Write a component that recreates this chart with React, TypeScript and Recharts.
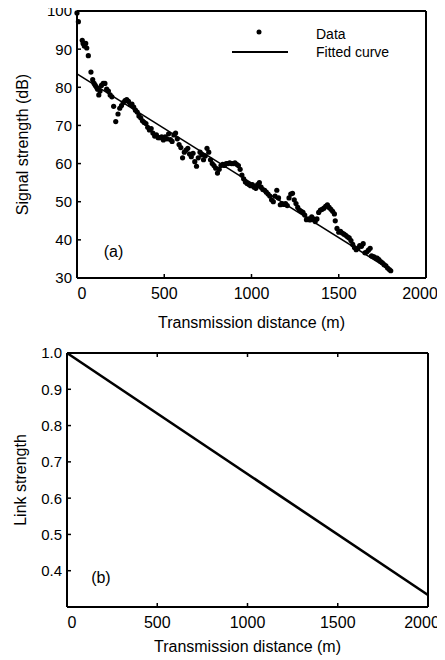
import {
  Line,
  LineChart,
  ReferenceDot,
  Scatter,
  ScatterChart,
  XAxis,
  YAxis,
} from "recharts";

// panel (a): measured signal strength vs distance
const distA = [
  0, 8, 30, 35, 42, 50, 56, 65, 80, 90, 98, 105, 112, 118, 125, 132, 140, 150,
  160, 170, 180, 190, 200, 210, 222, 235, 245, 255, 265, 275, 285, 295, 305,
  315, 325, 335, 345, 355, 365, 375, 385, 395, 405, 415, 425, 435, 445, 455,
  465, 475, 485, 495, 505, 515, 525, 535, 545, 555, 565, 575, 585, 595, 605,
  615, 625, 635, 645, 655, 665, 675, 685, 695, 705, 715, 725, 735, 745, 755,
  765, 775, 785, 795, 805, 815, 825, 835, 845, 855, 865, 875, 885, 895, 905,
  915, 925, 935, 945, 955, 965, 975, 985, 995, 1005, 1015, 1025, 1035, 1045,
  1055, 1065, 1075, 1085, 1095, 1105, 1115, 1125, 1135, 1145, 1155, 1165, 1175,
  1185, 1195, 1205, 1215, 1225, 1235, 1245, 1255, 1265, 1275, 1285, 1295, 1305,
  1315, 1325, 1335, 1345, 1355, 1365, 1375, 1385, 1395, 1405, 1415, 1425, 1435,
  1445, 1455, 1465, 1475, 1480, 1490, 1500, 1510, 1520, 1530, 1540, 1550, 1560,
  1570, 1580, 1590, 1600, 1610, 1620, 1630, 1640, 1650, 1660, 1670, 1680, 1688,
  1700, 1710, 1720, 1730, 1740, 1750, 1760, 1770, 1780, 1790, 1798,
];
const signalA = [
  99.5, 97.2, 92.3, 91.5, 90.8, 91.5, 90.3, 88.3, 84, 82, 81, 80.5, 80, 79.5,
  78, 79, 80.5, 81, 81, 79.5, 79, 78, 77.5, 75, 71, 73, 74.5, 75.2, 76, 76.5,
  76.8, 76.3, 75.5, 75.6, 74.8, 74, 73.5, 72.5, 72, 71.2, 70.8, 70.5, 69.5,
  68.8, 69.2, 68, 67.2, 67.5, 66.8, 66.8, 67, 66.2, 67, 66.5, 67.8, 66.3, 65.8,
  67.5, 68, 66.5, 65, 64.2, 61.5, 63, 63.5, 64, 62.5, 61.8, 62.7, 60.5, 59.3,
  61.5, 63, 62.3, 61, 62, 64, 63, 61, 60, 59.5, 58.8, 57.5, 58.5, 59.5, 59.8,
  59.5, 60, 60, 60.2, 60, 60, 60.2, 59.8, 59.5, 58.5, 57, 56, 55.2, 54.8, 54.5,
  54.2, 54.5, 53.8, 53.5, 54.5, 55, 53.8, 53.2, 53, 52.5, 52, 51.5, 50.5, 50,
  51.5, 53, 51, 49.2, 49.5, 49.3, 49.5, 49, 51, 52, 52.2, 50.5, 49.5, 48.5,
  47.8, 47.5, 47.2, 46.5, 45.3, 45.5, 45.2, 46, 45.5, 44.8, 45.5, 47.2, 47.8,
  48, 48.3, 48.8, 49.2, 48.5, 48, 47.5, 46.8, 45, 43, 42, 42.2, 41.8, 41.5,
  41.2, 40.8, 40.5, 39.8, 38.8, 38, 37.4, 37.8, 38.5, 38.3, 39, 36.6, 36.8,
  37.3, 37.8, 35.8, 35.6, 35.3, 35.2, 34.8, 34.3, 34, 33.5, 33.2, 32.6, 32.2,
  31.9,
];
const fitX = [0, 1800];
const fitY = [83.5, 32];

// panel (b): link strength vs distance
const linkX = [0, 2000];
const linkY = [1.0, 0.333];

const distTicks = [0, 500, 1000, 1500, 2000];
const signalTicks = [30, 40, 50, 60, 70, 80, 90, 100];
const linkTicks = [0.4, 0.5, 0.6, 0.7, 0.8, 0.9, 1.0];

const pointsA = distA.map((x, i) => ({ x, y: signalA[i] }));
const fitA = fitX.map((x, i) => ({ x, y: fitY[i] }));
const linkData = linkX.map((x, i) => ({ x, y: linkY[i] }));

const FONT = "'Liberation Sans', Arial, sans-serif";
const axisLine = { stroke: "#000", strokeWidth: 2 };
const TICK = 4;

const css = `
.recharts-cartesian-axis-line { stroke: #000; stroke-width: 2px; }
.recharts-label { fill: #000; font-size: 16px; font-family: ${FONT}; }
`;

const BottomTick = (props: any) => {
  const { x, y, payload } = props;
  let dx = 0;
  if (payload.value === 0) dx = 5;
  if (payload.value === 2000) dx = -6;
  return (
    <g>
      <line x1={x} x2={x} y1={y} y2={y - TICK} stroke="#000" strokeWidth={1.5} />
      <text x={x + dx} y={y + 21} textAnchor="middle" fontSize={16} fontFamily={FONT} fill="#000">
        {payload.value}
      </text>
    </g>
  );
};

const LeftTick = (props: any) => {
  const { x, y, payload, digits } = props;
  return (
    <g>
      <line x1={x} x2={x + TICK} y1={y} y2={y} stroke="#000" strokeWidth={1.5} />
      <text x={x - 5} y={y} dy="0.36em" textAnchor="end" fontSize={15} fontFamily={FONT} fill="#000">
        {payload.value.toFixed(digits)}
      </text>
    </g>
  );
};

const TopTick = (props: any) => (
  <line x1={props.x} x2={props.x} y1={props.y} y2={props.y + TICK} stroke="#000" strokeWidth={1.5} />
);

const RightTick = (props: any) => (
  <line x1={props.x} x2={props.x - TICK} y1={props.y} y2={props.y} stroke="#000" strokeWidth={1.5} />
);

const Dot = (props: any) => <circle cx={props.cx} cy={props.cy} r={2.6} fill="#000" />;

export default function App() {
  return (
    <div style={{ margin: "-8px 0 0 -8px", width: 445, position: "relative", fontFamily: FONT }}>
      <style>{css}</style>
      <ScatterChart width={445} height={340} margin={{ top: 10, right: 18, bottom: 10, left: 0 }}>
        <XAxis
          type="number"
          dataKey="x"
          domain={[0, 2000]}
          ticks={distTicks}
          height={52}
          axisLine={axisLine}
          tickLine={false}
          tickSize={0}
          tickMargin={0}
          tick={<BottomTick />}
          label={{ value: "Transmission distance (m)", position: "center", dy: 18 }}
        />
        <XAxis
          xAxisId="top"
          orientation="top"
          type="number"
          dataKey="x"
          domain={[0, 2000]}
          ticks={distTicks}
          height={1}
          axisLine={axisLine}
          tickLine={false}
          tickSize={0}
          tickMargin={0}
          tick={<TopTick />}
        />
        <YAxis
          type="number"
          dataKey="y"
          domain={[30, 100]}
          ticks={signalTicks}
          width={77}
          axisLine={axisLine}
          tickLine={false}
          tickSize={0}
          tickMargin={0}
          tick={<LeftTick digits={0} />}
          label={{ value: "Signal strength (dB)", angle: -90, position: "center", dx: -16 }}
        />
        <YAxis
          yAxisId="right"
          orientation="right"
          type="number"
          dataKey="y"
          domain={[30, 100]}
          ticks={signalTicks}
          width={1}
          axisLine={axisLine}
          tickLine={false}
          tickSize={0}
          tickMargin={0}
          tick={<RightTick />}
        />
        <Scatter data={pointsA} shape={<Dot />} isAnimationActive={false} />
        <Scatter
          data={fitA}
          line={{ stroke: "#000", strokeWidth: 1.6 }}
          shape={() => <g />}
          isAnimationActive={false}
        />
        <ReferenceDot x={209} y={37.1} r={0} label="(a)" />
      </ScatterChart>
      <div style={{ position: "absolute", left: 225, top: 22 }}>
        <svg width={200} height={44}>
          <circle cx={34} cy={10} r={2.5} fill="#000" />
          <line x1={7} x2={63} y1={30} y2={30} stroke="#000" strokeWidth={2} />
          <text x={91} y={17} fontSize={14} fontFamily={FONT} fill="#000">Data</text>
          <text x={91} y={35} fontSize={14} fontFamily={FONT} fill="#000">Fitted curve</text>
        </svg>
      </div>
      <div style={{ marginTop: -10 }}>
        <LineChart width={445} height={330} data={linkData} margin={{ top: 22, right: 16, bottom: 0, left: 0 }}>
          <XAxis
            type="number"
            dataKey="x"
            domain={[0, 2000]}
            ticks={distTicks}
            height={53}
            axisLine={axisLine}
            tickLine={false}
            tickSize={0}
            tickMargin={0}
            tick={<BottomTick />}
            label={{ value: "Transmission distance (m)", position: "center", dy: 13 }}
          />
          <XAxis
            xAxisId="top"
            orientation="top"
            type="number"
            dataKey="x"
            domain={[0, 2000]}
            ticks={distTicks}
            height={1}
            axisLine={axisLine}
            tickLine={false}
            tickSize={0}
            tickMargin={0}
            tick={<TopTick />}
          />
          <YAxis
            type="number"
            domain={[0.3, 1.0]}
            ticks={linkTicks}
            width={67}
            axisLine={axisLine}
            tickLine={false}
            tickSize={0}
            tickMargin={0}
            tick={<LeftTick digits={1} />}
            label={{ value: "Link strength", angle: -90, position: "center", dx: -13 }}
          />
          <YAxis
            yAxisId="right"
            orientation="right"
            type="number"
            domain={[0.3, 1.0]}
            ticks={linkTicks}
            width={1}
            axisLine={axisLine}
            tickLine={false}
            tickSize={0}
            tickMargin={0}
            tick={<RightTick />}
          />
          <Line
            type="linear"
            dataKey="y"
            stroke="#000"
            strokeWidth={2.6}
            dot={false}
            isAnimationActive={false}
          />
          <ReferenceDot x={188} y={0.383} r={0} label="(b)" />
        </LineChart>
      </div>
    </div>
  );
}
